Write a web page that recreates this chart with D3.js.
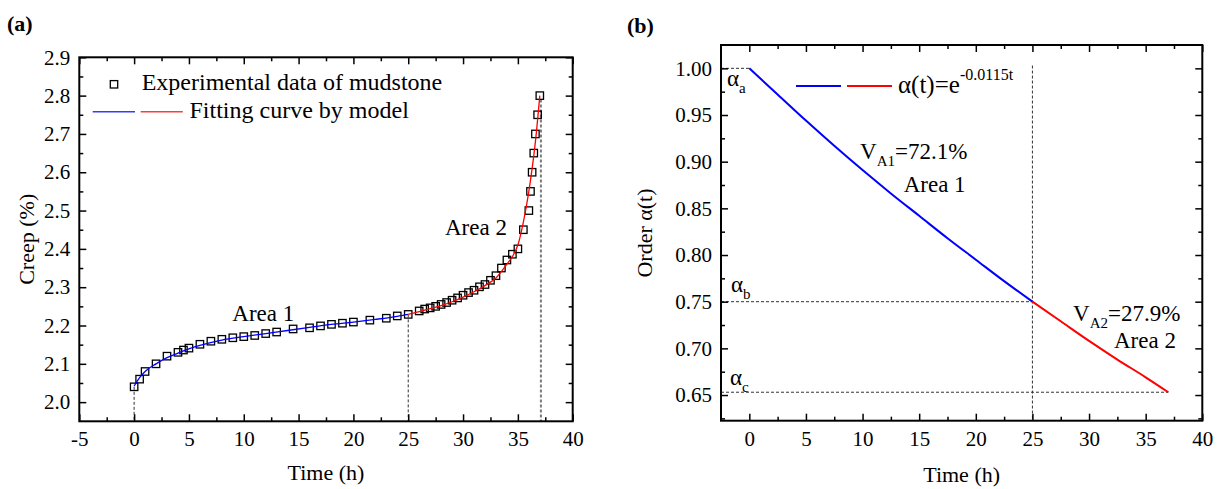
<!DOCTYPE html>
<html>
<head>
<meta charset="UTF-8">
<title>Creep and order</title>
<script src="https://cdnjs.cloudflare.com/ajax/libs/d3/7.8.5/d3.min.js"></script>
<style>
    body {margin:0; background:#fff;}
    svg text {font-family:"Liberation Serif","Times New Roman",serif; fill:#000;}
    .tick text {font-size:21px;}
    .tick line {stroke:#000; stroke-width:1.5px;}
    .frame {fill:none; stroke:#000; stroke-width:2px;}
    .guide {fill:none; stroke:#333; stroke-width:1px; stroke-dasharray:3,2;}
</style>
</head>
<body>
<svg width="1220" height="489"></svg>
<script>
// ---- panel (a): creep test data
var creepTime  = [0, 0.5, 1, 2, 3, 4, 4.5, 5, 6, 7, 8, 9, 10, 11, 12, 13, 14.5, 16, 17, 18, 19, 20, 21.5, 23, 24, 25,
                  26, 26.5, 27, 27.5, 28, 28.5, 29, 29.5, 30, 30.5, 31, 31.5, 32, 32.5, 33, 33.5, 34, 34.5, 35, 35.5,
                  36, 36.15, 36.3, 36.45, 36.6, 36.8, 37];
var creepValue = [2.04, 2.06, 2.08, 2.10, 2.12, 2.13, 2.136, 2.141, 2.151, 2.159, 2.164, 2.168, 2.171, 2.174, 2.179, 2.183, 2.191, 2.194, 2.199, 2.203, 2.206, 2.209, 2.214, 2.219, 2.225, 2.229,
                  2.238, 2.243, 2.246, 2.25, 2.255, 2.26, 2.266, 2.272, 2.279, 2.286, 2.292, 2.301, 2.307, 2.318, 2.33, 2.35, 2.371, 2.386, 2.40, 2.45,
                  2.50, 2.55, 2.60, 2.65, 2.70, 2.75, 2.80];
// fitting curve, area 1 (blue) and area 2 (red)
var fitTime1  = [0, 0.5, 1, 2, 3, 4, 5, 6, 8, 10, 12, 14, 16, 18, 20, 22, 24, 25];
var fitValue1 = [2.042, 2.064, 2.08, 2.10, 2.116, 2.128, 2.139, 2.148, 2.162, 2.171, 2.179, 2.187, 2.195, 2.203, 2.209, 2.216, 2.224, 2.229];
var fitTime2  = [25, 26, 27, 28, 29, 30, 31, 32, 33, 34, 34.5, 35, 35.5, 36, 36.3, 36.6, 37];
var fitValue2 = [2.229, 2.236, 2.244, 2.252, 2.262, 2.274, 2.288, 2.304, 2.324, 2.36, 2.38, 2.41, 2.47, 2.55, 2.61, 2.68, 2.80];
var xTicksA = [-5, 0, 5, 10, 15, 20, 25, 30, 35, 40];
var yTicksA = [2.0, 2.1, 2.2, 2.3, 2.4, 2.5, 2.6, 2.7, 2.8, 2.9];

// ---- panel (b): order alpha(t)
var orderTime1  = [0, 2.5, 5, 7.5, 10, 12.5, 15, 17.5, 20, 22.5, 25];
var orderValue1 = [1.000, 0.972, 0.944, 0.917, 0.891, 0.866, 0.842, 0.818, 0.795, 0.772, 0.750];
var orderTime2  = [25, 27.5, 30, 32.5, 35, 37];
var orderValue2 = [0.750, 0.729, 0.708, 0.688, 0.669, 0.653];
var xTicksB = [0, 5, 10, 15, 20, 25, 30, 35, 40];
var yTicksB = [0.65, 0.70, 0.75, 0.80, 0.85, 0.90, 0.95, 1.00];

var svg = d3.select("svg");

function minorOf(ticks, step) {
    var out = [];
    ticks.forEach(function(t) { out.push(+(t + step).toFixed(4)); out.push(+(t - step).toFixed(4)); });
    return Array.from(new Set(out)).filter(function(v) { return ticks.indexOf(v) < 0; });
}

// draws frame + inward ticks on all four sides
function drawFrame(x, y, xt, yt, xStep, yStep, xFmt, yFmt) {
    var r = x.range(), b = y.range();
    var xd = x.domain(), yd = y.domain();
    var xm = minorOf(xt, xStep).filter(function(v) { return v > xd[0] && v < xd[1]; });
    var ym = minorOf(yt, yStep).filter(function(v) { return v > yd[0] && v < yd[1]; });

    var ax = [
        [d3.axisBottom(x).tickValues(xt).tickSize(-7).tickPadding(10).tickFormat(xFmt), "translate(0," + b[0] + ")"],
        [d3.axisBottom(x).tickValues(xm).tickSize(-4).tickFormat(""), "translate(0," + b[0] + ")"],
        [d3.axisTop(x).tickValues(xt).tickSize(-7).tickFormat(""), "translate(0," + b[1] + ")"],
        [d3.axisTop(x).tickValues(xm).tickSize(-4).tickFormat(""), "translate(0," + b[1] + ")"],
        [d3.axisLeft(y).tickValues(yt).tickSize(-7).tickPadding(9).tickFormat(yFmt), "translate(" + r[0] + ",0)"],
        [d3.axisLeft(y).tickValues(ym).tickSize(-4).tickFormat(""), "translate(" + r[0] + ",0)"],
        [d3.axisRight(y).tickValues(yt).tickSize(-7).tickFormat(""), "translate(" + r[1] + ",0)"],
        [d3.axisRight(y).tickValues(ym).tickSize(-4).tickFormat(""), "translate(" + r[1] + ",0)"]
    ];
    ax.forEach(function(a) {
        var g = svg.append("g").attr("transform", a[1]).call(a[0]);
        g.select(".domain").remove();
        g.selectAll("text").attr("fill", "#000");
    });
    svg.append("rect").attr("class", "frame")
        .attr("x", r[0]).attr("y", b[1])
        .attr("width", r[1] - r[0]).attr("height", b[0] - b[1]);
}

// ================= panel (a)
var xA = d3.scaleLinear().domain([-5, 40]).range([79.3, 572.7]);
var yA = d3.scaleLinear().domain([1.95, 2.9]).range([421.3, 57.3]);

// guide lines
svg.append("line").attr("class", "guide")
    .attr("x1", xA(0)).attr("x2", xA(0)).attr("y1", yA(creepValue[0])).attr("y2", yA(1.95));
svg.append("line").attr("class", "guide")
    .attr("x1", xA(25)).attr("x2", xA(25)).attr("y1", yA(2.229)).attr("y2", yA(1.95));
svg.append("line")
    .attr("x1", xA(37.1)).attr("x2", xA(37.1)).attr("y1", yA(2.79)).attr("y2", yA(1.95))
    .style("stroke", "#7a7a7a").style("stroke-width", 2).style("stroke-dasharray", "3,2");

drawFrame(xA, yA, xTicksA, yTicksA, 2.5, 0.05, function(d) { return String(d); }, d3.format(".1f"));

var lineA = d3.line().x(function(d) { return xA(d[0]); }).y(function(d) { return yA(d[1]); }).curve(d3.curveMonotoneX);

svg.selectAll(".pt").data(d3.zip(creepTime, creepValue)).enter().append("rect")
    .attr("class", "pt")
    .attr("x", function(d) { return xA(d[0]) - 3.7; })
    .attr("y", function(d) { return yA(d[1]) - 3.7; })
    .attr("width", 7.4).attr("height", 7.4)
    .style("fill", "none").style("stroke", "#000").style("stroke-width", 1.3);

svg.append("path").attr("d", lineA(d3.zip(fitTime1, fitValue1)))
    .style("fill", "none").style("stroke", "#0000ff").style("stroke-width", 1.3);
svg.append("path").attr("d", lineA(d3.zip(fitTime2, fitValue2)))
    .style("fill", "none").style("stroke", "#ff0000").style("stroke-width", 1.3);

// legend (a)
svg.append("rect").attr("x", 110.3).attr("y", 80.6).attr("width", 7.4).attr("height", 7.4)
    .style("fill", "none").style("stroke", "#000").style("stroke-width", 1.3);
svg.append("text").attr("x", 141.7).attr("y", 90).style("font-size", "24px").text("Experimental data of mudstone");
svg.append("line").attr("x1", 92.7).attr("x2", 135).attr("y1", 111.7).attr("y2", 111.7)
    .style("stroke", "#3a3aff").style("stroke-width", 1.5);
svg.append("line").attr("x1", 140.7).attr("x2", 182.8).attr("y1", 111.7).attr("y2", 111.7)
    .style("stroke", "#ff3a3a").style("stroke-width", 1.5);
svg.append("text").attr("x", 189.5).attr("y", 118.3).style("font-size", "24px").text("Fitting curve by model");

svg.append("text").attr("x", 232.3).attr("y", 320.7).style("font-size", "23px").text("Area 1");
svg.append("text").attr("x", 445).attr("y", 235).style("font-size", "23px").text("Area 2");

svg.append("text").attr("x", (79.3 + 572.7) / 2).attr("y", 480).attr("text-anchor", "middle")
    .style("font-size", "22px").text("Time (h)");
svg.append("text").attr("transform", "translate(34,239.3) rotate(-90)").attr("text-anchor", "middle")
    .style("font-size", "22px").text("Creep (%)");
svg.append("text").attr("x", 7).attr("y", 31).style("font-size", "22px").style("font-weight", "bold").text("(a)");

// ================= panel (b)
var xB = d3.scaleLinear().domain([-2.5, 40]).range([721, 1202.3]);
var yB = d3.scaleLinear().domain([0.6225, 1.025]).range([420.7, 45]);

svg.append("line").attr("class", "guide")
    .attr("x1", xB(-2.5)).attr("x2", xB(0)).attr("y1", yB(1)).attr("y2", yB(1));
svg.append("line").attr("class", "guide")
    .attr("x1", xB(-2.5)).attr("x2", xB(25)).attr("y1", yB(0.75)).attr("y2", yB(0.75));
svg.append("line").attr("class", "guide")
    .attr("x1", xB(-2.5)).attr("x2", xB(37)).attr("y1", yB(0.653)).attr("y2", yB(0.653));
svg.append("line").attr("class", "guide")
    .attr("x1", xB(25)).attr("x2", xB(25)).attr("y1", yB(1.003)).attr("y2", yB(0.6225));

drawFrame(xB, yB, xTicksB, yTicksB, 2.5, 0.025, function(d) { return String(d); }, d3.format(".2f"));

var lineB = d3.line().x(function(d) { return xB(d[0]); }).y(function(d) { return yB(d[1]); }).curve(d3.curveMonotoneX);
svg.append("path").attr("d", lineB(d3.zip(orderTime1, orderValue1)))
    .style("fill", "none").style("stroke", "#0000ff").style("stroke-width", 2);
svg.append("path").attr("d", lineB(d3.zip(orderTime2, orderValue2)))
    .style("fill", "none").style("stroke", "#ff0000").style("stroke-width", 2);

// legend (b)
svg.append("line").attr("x1", 796).attr("x2", 841).attr("y1", 86).attr("y2", 86)
    .style("stroke", "#0000ff").style("stroke-width", 2);
svg.append("line").attr("x1", 847).attr("x2", 892).attr("y1", 86).attr("y2", 86)
    .style("stroke", "#ff0000").style("stroke-width", 2);
var lg = svg.append("text").attr("x", 898).attr("y", 93.3).style("font-size", "25px");
lg.append("tspan").text("\u03b1(t)=e");
lg.append("tspan").attr("dy", -13).style("font-size", "16px").text("-0.0115t");

function subLabel(x, y, main, sub, rest, size) {
    var t = svg.append("text").attr("x", x).attr("y", y).style("font-size", size + "px");
    t.append("tspan").text(main);
    t.append("tspan").attr("dy", 7).style("font-size", Math.round(size * 0.65) + "px").text(sub);
    if (rest) t.append("tspan").attr("dy", -7).text(rest);
}
subLabel(727, 86, "\u03b1", "a", null, 23);
subLabel(731, 291.7, "\u03b1", "b", null, 23);
subLabel(730, 385, "\u03b1", "c", null, 23);
subLabel(860, 159, "V", "A1", "=72.1%", 23);
subLabel(1073, 321, "V", "A2", "=27.9%", 23);

svg.append("text").attr("x", 903.7).attr("y", 191.7).style("font-size", "23px").text("Area 1");
svg.append("text").attr("x", 1114).attr("y", 348.3).style("font-size", "23px").text("Area 2");

svg.append("text").attr("x", (721 + 1202.3) / 2).attr("y", 482).attr("text-anchor", "middle")
    .style("font-size", "22px").text("Time (h)");
svg.append("text").attr("transform", "translate(652,233) rotate(-90)").attr("text-anchor", "middle")
    .style("font-size", "22px").text("Order \u03b1(t)");
svg.append("text").attr("x", 627).attr("y", 33).style("font-size", "22px").style("font-weight", "bold").text("(b)");
</script>
</body>
</html>
